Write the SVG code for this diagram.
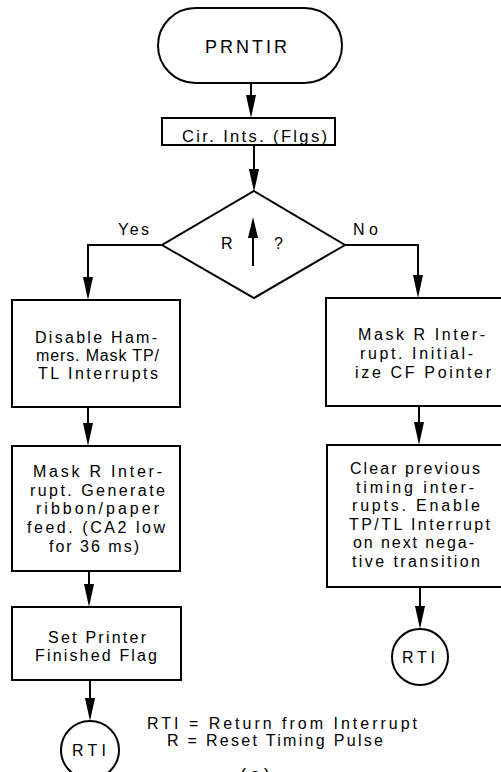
<svg xmlns="http://www.w3.org/2000/svg" width="501" height="772" viewBox="0 0 501 772">
<defs>
<style>
.s{fill:#fff;stroke:#000;stroke-width:2}
.t{font-family:"Liberation Sans",Arial,sans-serif;font-size:16px;fill:#000}
.c{fill:none;stroke:#000;stroke-width:2}
</style>
</defs>
<rect width="501" height="772" fill="#fff"/>
<g id="connectors">
<path class="c" d="M251,83 V96"/>
<path d="M246,95 L256,95 L251,118 Z"/>
<path class="c" d="M254,145 V170"/>
<path d="M249,169 L259,169 L254,192 Z"/>
<path class="c" d="M162,245 H88 V278"/>
<path d="M83,277 L93,277 L88,300 Z"/>
<path class="c" d="M345,245 H418 V276"/>
<path d="M413,275 L423,275 L418,298 Z"/>
<path class="c" d="M88,407 V424"/>
<path d="M83,423 L93,423 L88,446 Z"/>
<path class="c" d="M419,406 V423"/>
<path d="M414,422 L424,422 L419,445 Z"/>
<path class="c" d="M89,571 V585"/>
<path d="M84,584 L94,584 L89,607 Z"/>
<path class="c" d="M420,587 V607"/>
<path d="M415,606 L425,606 L420,629 Z"/>
<path class="c" d="M90,680 V699"/>
<path d="M85,698 L95,698 L90,721 Z"/>
</g>
<g id="start">
<rect class="s" x="158" y="8" width="184" height="75" rx="37.5" ry="37.5"/>
<text class="t" x="205" y="53" style="font-size:18px" textLength="82" lengthAdjust="spacing">PRNTIR</text>
</g>
<g id="clear">
<rect class="s" x="162" y="118" width="173" height="27"/>
<text class="t" x="182" y="142" style="font-size:16.5px" textLength="145" lengthAdjust="spacing">Cir. Ints. (Flgs)</text>
</g>
<g id="decision">
<path class="s" d="M254,191 L345,245 L254,298 L162,245 Z"/>
<text class="t" x="221" y="249">R</text>
<text class="t" x="274" y="249">?</text>
<path class="c" d="M253,266 V236"/>
<path d="M248,238 L258,238 L253,217 Z"/>
</g>
<g id="labels">
<text class="t" x="118" y="235" textLength="31" lengthAdjust="spacing">Yes</text>
<text class="t" x="353" y="235" textLength="25" lengthAdjust="spacing">No</text>
</g>
<g id="disable">
<rect class="s" x="12" y="300" width="168" height="107"/>
<text class="t" x="35" y="343" textLength="122" lengthAdjust="spacing">Disable Ham-</text>
<text class="t" x="36" y="361" textLength="123" lengthAdjust="spacing">mers. Mask TP/</text>
<text class="t" x="38" y="379" textLength="120" lengthAdjust="spacing">TL Interrupts</text>
</g>
<g id="maskR1">
<rect class="s" x="326" y="298" width="190" height="108"/>
<text class="t" x="358" y="340" textLength="127" lengthAdjust="spacing">Mask R Inter-</text>
<text class="t" x="360" y="359" textLength="113" lengthAdjust="spacing">rupt. Initial-</text>
<text class="t" x="355" y="378" textLength="136" lengthAdjust="spacing">ize CF Pointer</text>
</g>
<g id="maskR2">
<rect class="s" x="12" y="446" width="168" height="125"/>
<text class="t" x="33" y="477" textLength="129" lengthAdjust="spacing">Mask R Inter-</text>
<text class="t" x="30" y="496" textLength="135" lengthAdjust="spacing">rupt. Generate</text>
<text class="t" x="36" y="514" textLength="123" lengthAdjust="spacing">ribbon/paper</text>
<text class="t" x="27" y="533" textLength="138" lengthAdjust="spacing">feed. (CA2 low</text>
<text class="t" x="49" y="552" textLength="90" lengthAdjust="spacing">for 36 ms)</text>
</g>
<g id="clearprev">
<rect class="s" x="327" y="445" width="190" height="142"/>
<text class="t" x="350" y="474" textLength="130" lengthAdjust="spacing">Clear previous</text>
<text class="t" x="356" y="493" textLength="118" lengthAdjust="spacing">timing inter-</text>
<text class="t" x="352" y="511" textLength="128" lengthAdjust="spacing">rupts. Enable</text>
<text class="t" x="349" y="530" textLength="141" lengthAdjust="spacing">TP/TL Interrupt</text>
<text class="t" x="353" y="548" textLength="121" lengthAdjust="spacing">on next nega-</text>
<text class="t" x="352" y="567" textLength="128" lengthAdjust="spacing">tive transition</text>
</g>
<g id="setflag">
<rect class="s" x="12" y="607" width="169" height="73"/>
<text class="t" x="48" y="643" textLength="98" lengthAdjust="spacing">Set Printer</text>
<text class="t" x="35" y="661" textLength="122" lengthAdjust="spacing">Finished Flag</text>
</g>
<g id="rti1">
<circle class="s" cx="90" cy="750" r="29"/>
<text class="t" x="72" y="756" textLength="34" lengthAdjust="spacing">RTI</text>
</g>
<g id="rti2">
<circle class="s" cx="420" cy="657" r="28"/>
<text class="t" x="402" y="663" textLength="33" lengthAdjust="spacing">RTI</text>
</g>
<g id="legend">
<text class="t" x="147" y="729" textLength="270" lengthAdjust="spacing">RTI = Return from Interrupt</text>
<text class="t" x="167" y="746" textLength="216" lengthAdjust="spacing">R = Reset Timing Pulse</text>
<text class="t" x="240" y="781" style="font-size:18px" textLength="30" lengthAdjust="spacing">(c)</text>
</g>
</svg>
